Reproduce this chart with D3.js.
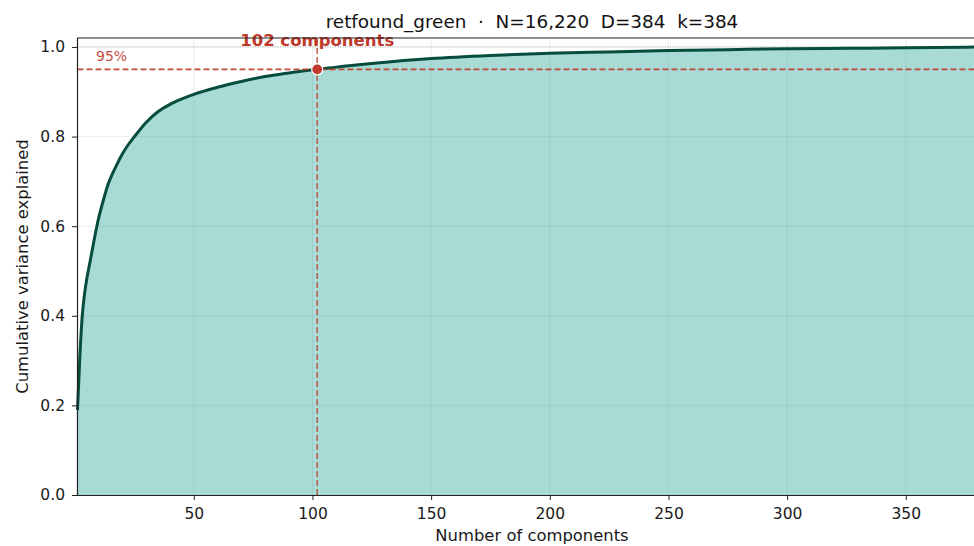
<!DOCTYPE html>
<html><head><meta charset="utf-8">
<script src="https://cdn.jsdelivr.net/npm/d3@7"></script>
<style>
body{margin:0;background:#fff;}
svg{font-family:"DejaVu Sans",sans-serif;}
text{white-space:pre;}
</style></head>
<body><svg id="c" width="974" height="546"></svg>
<script>
const components = [1,2,3,4,5,6,7,8,9,10,12,14,16,18,20,22,25,30,35,40,45,50,60,70,80,90,100,102,110,125,150,175,200,225,250,275,300,325,350,384];
const cumVar = [0.19,0.31,0.40,0.45,0.485,0.513,0.541,0.569,0.596,0.62,0.66,0.695,0.72,0.742,0.762,0.779,0.80,0.832,0.856,0.872,0.884,0.894,0.910,0.923,0.934,0.942,0.949,0.950,0.955,0.963,0.974,0.981,0.986,0.989,0.992,0.994,0.996,0.997,0.998,1.0];
const xTicks = [50,100,150,200,250,300,350];
const yTicks = [0.0,0.2,0.4,0.6,0.8,1.0];
const threshold = 0.95;
const kAt = 102;
const title = "retfound_green  \u00b7  N=16,220  D=384  k=384";

const svg = d3.select("#c");
const L=77.5, R=986.5, T=38, B=495;
const x = d3.scaleLinear().domain([1,384]).range([L,R]);
const y = d3.scaleLinear().domain([0,1.02]).range([B,T]);
const red = "#c0392b";
const data = components.map((k,i)=>({k, v:cumVar[i]}));

// grid
const g = svg.append("g");
g.selectAll(".gx").data(xTicks).join("line").attr("x1",d=>x(d)).attr("x2",d=>x(d)).attr("y1",T).attr("y2",B).attr("stroke","#b0b0b0").attr("stroke-opacity",0.3).attr("stroke-width",0.8);
g.selectAll(".gy").data(yTicks).join("line").attr("x1",L).attr("x2",R).attr("y1",d=>y(d)).attr("y2",d=>y(d)).attr("stroke","#b0b0b0").attr("stroke-opacity",0.3).attr("stroke-width",0.8);

// area
svg.append("path").datum(data)
  .attr("d", d3.area().x(d=>x(d.k)).y0(y(0)).y1(d=>y(d.v)).curve(d3.curveMonotoneX))
  .attr("fill","#19a091").attr("fill-opacity",0.38);

// 1.0 dotted
svg.append("line").attr("x1",L).attr("x2",R).attr("y1",y(1)).attr("y2",y(1))
  .attr("stroke","#999").attr("stroke-width",0.8).attr("stroke-dasharray","1,1.5").attr("opacity",0.8);

// line
svg.append("path").datum(data)
  .attr("d", d3.line().x(d=>x(d.k)).y(d=>y(d.v)).curve(d3.curveMonotoneX))
  .attr("fill","none").attr("stroke","#064d3d").attr("stroke-width",3);

// threshold lines
svg.append("line").attr("x1",L).attr("x2",R).attr("y1",y(threshold)).attr("y2",y(threshold))
  .attr("stroke",red).attr("stroke-width",1.8).attr("stroke-dasharray","6,3").attr("opacity",0.9);
svg.append("line").attr("x1",x(kAt)).attr("x2",x(kAt)).attr("y1",B).attr("y2",T)
  .attr("stroke",red).attr("stroke-width",1.5).attr("stroke-dasharray","6,3").attr("opacity",0.8);
svg.append("circle").attr("cx",x(kAt)).attr("cy",y(threshold)).attr("r",5.5)
  .attr("fill",red).attr("stroke","#fff").attr("stroke-width",1.2);

svg.append("text").attr("x",96).attr("y",61).attr("fill",red).style("font-size","14px").attr("opacity",0.9).text("95%");
svg.append("text").attr("x",x(kAt)).attr("y",46).attr("text-anchor","middle").attr("fill",red)
  .style("font-size","16.5px").attr("font-weight","bold").text(kAt+" components");

// axes
const xa = svg.append("g").attr("transform",`translate(0,${B})`)
  .call(d3.axisBottom(x).tickValues(xTicks).tickSize(5).tickPadding(7.5).tickSizeOuter(0));
const ya = svg.append("g").attr("transform",`translate(${L-0.5},0)`)
  .call(d3.axisLeft(y).tickValues(yTicks).tickFormat(d3.format(".1f")).tickSize(5).tickPadding(7).tickSizeOuter(0));
[xa,ya].forEach(a=>{
  a.attr("font-size",null).attr("font-family",null);
  a.select(".domain").attr("stroke","#222").attr("stroke-width",1.2);
  a.selectAll(".tick line").attr("stroke","#222").attr("stroke-width",1);
  a.selectAll(".tick text").style("font-size","15.5px").attr("fill","#1a1a1a").style("font-family","DejaVu Sans");
});
xa.select(".domain").attr("d",`M${L-0.5},0.5H${R}`);
ya.select(".domain").attr("d",`M0.5,${B}V${T}`);
// top spine
svg.append("line").attr("x1",L-0.5).attr("x2",R).attr("y1",T).attr("y2",T).attr("stroke","#222").attr("stroke-width",1.2);

svg.append("text").attr("x",(L+R)/2).attr("y",541).attr("text-anchor","middle").style("font-size","16.4px").attr("fill","#1a1a1a").text("Number of components");
svg.append("text").attr("transform",`translate(28,${(T+B)/2}) rotate(-90)`).attr("text-anchor","middle").style("font-size","16.4px").attr("fill","#1a1a1a").text("Cumulative variance explained");
svg.append("text").attr("x",(L+R)/2).attr("y",28).attr("text-anchor","middle").style("font-size","18.4px").attr("fill","#111").text(title);
</script></body></html>
